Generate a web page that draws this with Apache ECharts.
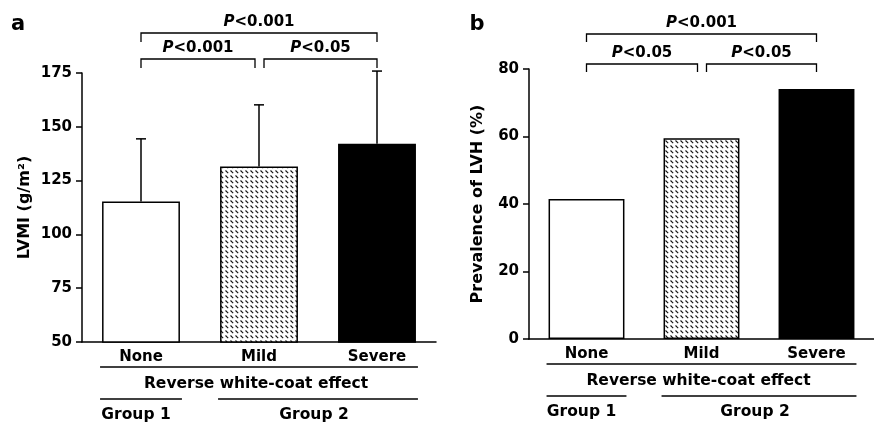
<!DOCTYPE html>
<html>
<head>
<meta charset="utf-8">
<script src="https://cdn.jsdelivr.net/npm/echarts@6/dist/echarts.min.js"></script>
<style>
  html, body { margin: 0; padding: 0; background: #fff; }
  #chart { width: 874px; height: 424px; }
</style>
</head>
<body>
<div id="chart"></div>
<script>
// data
var categories = ['None', 'Mild', 'Severe'];
var lvmiMean = [115.3, 131.5, 142.1];
var lvmiSD = [29.1, 28.7, 33.8];
var lvhPrevalence = [41.5, 59.5, 74.1];
var lvmiTicks = [50, 75, 100, 125, 150, 175];
var lvhTicks = [0, 20, 40, 60, 80];
// comparisons: [from, to, p text]
var lvmiPvals = [[0, 1, '<0.001'], [1, 2, '<0.05'], [0, 2, '<0.001']];
var lvhPvals = [[0, 1, '<0.05'], [1, 2, '<0.05'], [0, 2, '<0.001']];
var groupNames = ['Group 1', 'Group 2'];
var effectName = 'Reverse white-coat effect';

var FONT = 'DejaVu Sans';

// stippled hatch for the "Mild" bar
function makeHatch() {
	var c = document.createElement('canvas');
	c.width = 5; c.height = 5;
	var ctx = c.getContext('2d');
	ctx.fillStyle = '#fff';
	ctx.fillRect(0, 0, 5, 5);
	ctx.strokeStyle = '#111';
	ctx.lineWidth = 1.1;
	ctx.beginPath();
	ctx.moveTo(0.5, 0.5);
	ctx.lineTo(3.2, 3.2);
	ctx.stroke();
	return c;
}
var hatch = makeHatch();

function barData(vals) {
	return vals.map(function(v, i) {
		var fill = i === 0 ? '#fff' : (i === 1 ? { image: hatch, repeat: 'repeat' } : '#000');
		return { value: v, itemStyle: { color: fill } };
	});
}

function yAxis(grid, ticks, name, gap) {
	return {
		type: 'value', gridIndex: grid,
		min: ticks[0], max: ticks[ticks.length - 1], interval: ticks[1] - ticks[0],
		name: name, nameLocation: 'middle', nameGap: gap, nameRotate: 90,
		nameTextStyle: { fontFamily: FONT, fontWeight: 'bold', fontSize: 16, color: '#000' },
		axisLine: { show: true, lineStyle: { color: '#000', width: 1.5 } },
		axisTick: { show: true, length: 6, lineStyle: { color: '#000', width: 1.5 } },
		axisLabel: { fontFamily: FONT, fontWeight: 'bold', fontSize: 15, color: '#000', margin: 10 },
		splitLine: { show: false }
	};
}

function xAxis(grid) {
	return {
		type: 'category', gridIndex: grid, data: categories,
		axisLine: { lineStyle: { color: '#000', width: 1.5 } },
		axisTick: { show: false },
		axisLabel: { fontFamily: FONT, fontWeight: 'bold', fontSize: 15, color: '#000', margin: 8 }
	};
}

var barStyle = { borderColor: '#000', borderWidth: 1.5 };

var option = {
	animation: false,
	backgroundColor: '#fff',
	grid: [
		{ left: 82, top: 73, width: 354, height: 269 },
		{ left: 529, top: 69, width: 354, height: 270 }
	],
	xAxis: [xAxis(0), xAxis(1)],
	yAxis: [yAxis(0, lvmiTicks, 'LVMI (g/m²)', 49), yAxis(1, lvhTicks, 'Prevalence of LVH (%)', 43)],
	series: [
		{ type: 'bar', xAxisIndex: 0, yAxisIndex: 0, barWidth: '66%', itemStyle: barStyle, data: barData(lvmiMean) },
		{
			type: 'custom', xAxisIndex: 0, yAxisIndex: 0, z: 3,
			data: lvmiMean.map(function(m, i) { return [i, m, m + lvmiSD[i]]; }),
			encode: { x: 0, y: [1, 2] },
			renderItem: function(params, api) {
				var lo = api.coord([api.value(0), api.value(1)]);
				var hi = api.coord([api.value(0), api.value(2)]);
				var st = { stroke: '#000', lineWidth: 1.5 };
				return { type: 'group', children: [
					{ type: 'line', shape: { x1: lo[0], y1: lo[1], x2: hi[0], y2: hi[1] }, style: st },
					{ type: 'line', shape: { x1: hi[0] - 5, y1: hi[1], x2: hi[0] + 5, y2: hi[1] }, style: st }
				] };
			}
		},
		{ type: 'bar', xAxisIndex: 1, yAxisIndex: 1, barWidth: '66%', itemStyle: barStyle, data: barData(lvhPrevalence) }
	]
};

var chart = echarts.init(document.getElementById('chart'), null, { renderer: 'canvas' });
chart.setOption(option);

// annotations placed from the axes' own pixel positions
function px(g, idx, val) {
	return chart.convertToPixel({ xAxisIndex: g, yAxisIndex: g }, [idx, val]);
}
function hline(x1, x2, y) {
	return { type: 'line', shape: { x1: x1, y1: y, x2: x2, y2: y }, style: { stroke: '#000', lineWidth: 1.6 } };
}
function label(x, y, txt, size) {
	return { type: 'text', x: x, y: y, style: { text: txt, fontFamily: FONT, fontWeight: 'bold', fontSize: size || 15, fill: '#000', align: 'center', verticalAlign: 'middle' } };
}
function pLabel(x, y, p) {
	return { type: 'text', x: x, y: y, style: {
		text: '{i|P}{n|' + p + '}', align: 'center', verticalAlign: 'middle',
		rich: {
			i: { fontFamily: FONT, fontWeight: 'bold', fontStyle: 'italic', fontSize: 15, fill: '#000' },
			n: { fontFamily: FONT, fontWeight: 'bold', fontSize: 15, fill: '#000' }
		}
	} };
}

function annotate(g, yMin, pvals, lowY, highY, tick) {
	var els = [];
	var c = categories.map(function(_, i) { return px(g, i, yMin); });
	var axisY = c[0][1];
	var band = c[1][0] - c[0][0];
	var half = band * 0.66 / 2;
	var gridTop = g === 0 ? 73 : 69;
	pvals.forEach(function(p) {
		var a = c[p[0]][0], b = c[p[1]][0];
		var wide = (p[1] - p[0]) > 1;
		var y = gridTop + (wide ? highY : lowY);
		if (!wide) {
			if (p[0] === 1) a += 5; else b -= 4;
		}
		els.push({ type: 'polyline', shape: { points: [[a, y + tick], [a, y], [b, y], [b, y + tick]] }, style: { stroke: '#000', lineWidth: 1.3, fill: null } });
		els.push(pLabel((a + b) / 2, y - 11, p[2]));
	});
	var left = c[0][0] - half - 2, right = c[2][0] + half + 2;
	els.push(hline(left, right, axisY + 25));
	els.push(label((left + right) / 2 - 3, axisY + 42, effectName, 15.5));
	els.push(hline(left, c[0][0] + half + 2, axisY + 57));
	els.push(hline(c[1][0] - half - 2, right, axisY + 57));
	els.push(label(c[0][0] - 5, axisY + 73, groupNames[0], 15.5));
	els.push(label((c[1][0] - half + right) / 2 - 5, axisY + 73, groupNames[1], 15.5));
	return els;
}

var graphics = []
	.concat(annotate(0, 50, lvmiPvals, -14, -40, 9))
	.concat(annotate(1, 0, lvhPvals, -5, -35, 8));
graphics.push({ type: 'text', x: 18, y: 25, style: { text: 'a', fontFamily: FONT, fontWeight: 'bold', fontSize: 21, fill: '#000', align: 'center', verticalAlign: 'middle' } });
graphics.push({ type: 'text', x: 477, y: 25, style: { text: 'b', fontFamily: FONT, fontWeight: 'bold', fontSize: 21, fill: '#000', align: 'center', verticalAlign: 'middle' } });

chart.setOption({ graphic: graphics });
</script>
</body>
</html>
